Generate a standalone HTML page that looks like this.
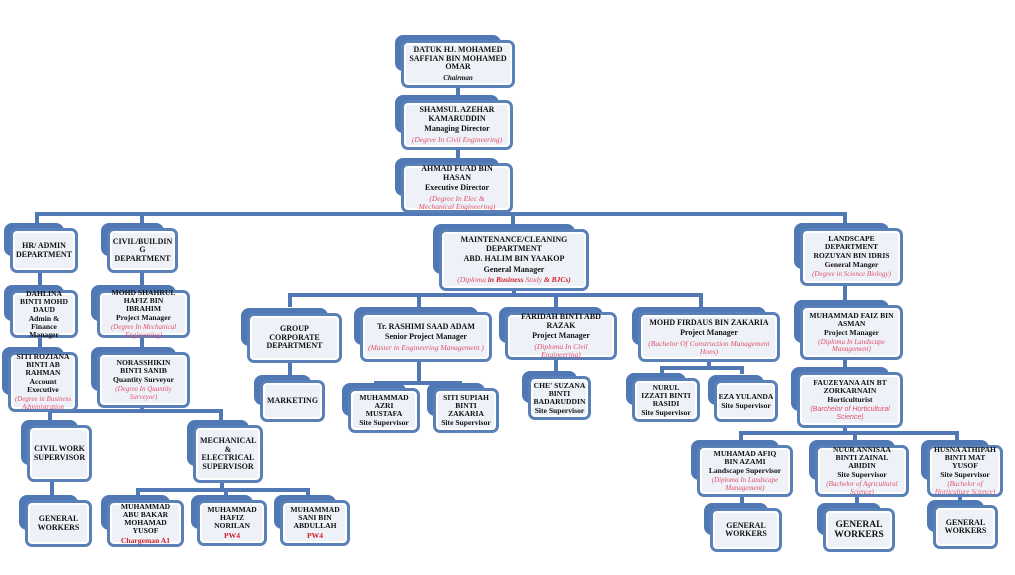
<!DOCTYPE html>
<html><head><meta charset="utf-8">
<style>
body{margin:0;width:1015px;height:575px;background:#fff;position:relative;overflow:hidden;font-family:"Liberation Serif",serif;}
.n{position:absolute;box-sizing:border-box;border:3px solid #5a80b8;border-radius:7px;background:#eef2f8;box-shadow:inset 0 0 0 2px #fff;display:flex;flex-direction:column;justify-content:center;align-items:center;text-align:center;font-weight:bold;font-size:8px;line-height:8.5px;color:#111;padding:0 4px;}
.n::before{content:"";position:absolute;left:-9px;top:-8px;width:calc(100% - 2px);height:calc(100% - 6px);background:#4f78b4;border-radius:8px;z-index:-1;}
.l{position:absolute;background:#4f78b4;z-index:-2;}
.r{font-size:8px;margin-top:2px;}
.d{color:#e0506a;font-style:italic;font-weight:normal;font-size:7.5px;line-height:8px;margin-top:2px;}
.rd{color:#d0202a;font-weight:bold;margin-top:2px;}
.s{font-size:7.6px;line-height:8px;padding:0 2px;}
.s .r{font-size:7.6px;margin-top:1px;}
.s .d{font-size:7px;line-height:7.5px;}
</style></head><body>
<div class="l" style="left:456px;top:85px;width:4px;height:130px"></div>
<div class="l" style="left:36px;top:212px;width:810px;height:4px"></div>
<div class="l" style="left:35px;top:212px;width:4px;height:14px"></div>
<div class="l" style="left:140px;top:212px;width:4px;height:14px"></div>
<div class="l" style="left:511px;top:212px;width:4px;height:14px"></div>
<div class="l" style="left:843px;top:212px;width:4px;height:14px"></div>
<div class="l" style="left:38px;top:270px;width:4px;height:90px"></div>
<div class="l" style="left:140px;top:270px;width:4px;height:90px"></div>
<div class="l" style="left:140px;top:405px;width:4px;height:8px"></div>
<div class="l" style="left:48px;top:409px;width:174px;height:4px"></div>
<div class="l" style="left:48px;top:409px;width:4px;height:16px"></div>
<div class="l" style="left:219px;top:409px;width:4px;height:16px"></div>
<div class="l" style="left:50px;top:478px;width:4px;height:22px"></div>
<div class="l" style="left:220px;top:480px;width:4px;height:10px"></div>
<div class="l" style="left:136px;top:488px;width:174px;height:4px"></div>
<div class="l" style="left:136px;top:488px;width:4px;height:10px"></div>
<div class="l" style="left:224px;top:488px;width:4px;height:10px"></div>
<div class="l" style="left:306px;top:488px;width:4px;height:10px"></div>
<div class="l" style="left:288px;top:293px;width:415px;height:4px"></div>
<div class="l" style="left:288px;top:293px;width:4px;height:14px"></div>
<div class="l" style="left:417px;top:293px;width:4px;height:14px"></div>
<div class="l" style="left:554px;top:293px;width:4px;height:14px"></div>
<div class="l" style="left:699px;top:293px;width:4px;height:14px"></div>
<div class="l" style="left:512px;top:288px;width:4px;height:8px"></div>
<div class="l" style="left:288px;top:360px;width:4px;height:18px"></div>
<div class="l" style="left:374px;top:381px;width:88px;height:4px"></div>
<div class="l" style="left:374px;top:381px;width:4px;height:8px"></div>
<div class="l" style="left:458px;top:381px;width:4px;height:8px"></div>
<div class="l" style="left:417px;top:360px;width:4px;height:23px"></div>
<div class="l" style="left:554px;top:358px;width:4px;height:16px"></div>
<div class="l" style="left:660px;top:366px;width:84px;height:4px"></div>
<div class="l" style="left:660px;top:366px;width:4px;height:8px"></div>
<div class="l" style="left:740px;top:366px;width:4px;height:8px"></div>
<div class="l" style="left:707px;top:360px;width:4px;height:8px"></div>
<div class="l" style="left:843px;top:285px;width:4px;height:150px"></div>
<div class="l" style="left:739px;top:431px;width:220px;height:4px"></div>
<div class="l" style="left:739px;top:431px;width:4px;height:12px"></div>
<div class="l" style="left:853px;top:431px;width:4px;height:12px"></div>
<div class="l" style="left:955px;top:431px;width:4px;height:12px"></div>
<div class="l" style="left:740px;top:495px;width:4px;height:12px"></div>
<div class="l" style="left:855px;top:495px;width:4px;height:12px"></div>
<div class="l" style="left:958px;top:495px;width:4px;height:10px"></div>

<div class="n" style="left:401px;top:40px;width:114px;height:48px">DATUK HJ. MOHAMED SAFFIAN BIN MOHAMED OMAR<div class="r" style="font-style:italic;font-size:7px">Chairman</div></div>
<div class="n" style="left:401px;top:100px;width:112px;height:50px">SHAMSUL AZEHAR KAMARUDDIN<div class="r">Managing Director</div><div class="d">(Degree In Civil Engineering)</div></div>
<div class="n" style="left:401px;top:163px;width:112px;height:50px;padding:0 12px">AHMAD FUAD BIN HASAN<div class="r">Executive Director</div><div class="d">(Degree In Elec &amp; Mechanical Engineering)</div></div>

<div class="n" style="left:10px;top:228px;width:68px;height:45px">HR/ ADMIN DEPARTMENT</div>
<div class="n" style="left:107px;top:228px;width:71px;height:45px">CIVIL/BUILDIN G DEPARTMENT</div>
<div class="n s" style="left:10px;top:290px;width:68px;height:48px;padding:0 6px">DAHLINA BINTI MOHD DAUD<div class="r">Admin &amp; Finance Manager</div></div>
<div class="n s" style="left:97px;top:290px;width:93px;height:48px;padding:0 6px">MOHD SHAHRUL HAFIZ BIN IBRAHIM<div class="r">Project Manager</div><div class="d">(Degree In Mechanical Engineering)</div></div>
<div class="n s" style="left:8px;top:352px;width:70px;height:60px;padding:0 2px">SITI ROZIANA BINTI AB RAHMAN<div class="r">Account Executive</div><div class="d">(Degree in Business Administration</div></div>
<div class="n s" style="left:97px;top:352px;width:93px;height:56px;padding:0 8px">NORASSHIKIN BINTI SANIB<div class="r">Quantity Surveyor</div><div class="d">(Degree In Quantity Surveyor)</div></div>
<div class="n" style="left:27px;top:425px;width:65px;height:57px">CIVIL WORK SUPERVISOR</div>
<div class="n" style="left:193px;top:425px;width:70px;height:58px;padding:0 8px">MECHANICAL &amp; ELECTRICAL SUPERVISOR</div>
<div class="n" style="left:25px;top:500px;width:67px;height:47px">GENERAL WORKERS</div>
<div class="n s" style="left:107px;top:500px;width:77px;height:47px;padding:0 6px">MUHAMMAD ABU BAKAR MOHAMAD YUSOF<div class="rd">Chargeman A1</div></div>
<div class="n s" style="left:197px;top:500px;width:70px;height:46px;padding:0 8px">MUHAMMAD HAFIZ NORILAN<div class="rd">PW4</div></div>
<div class="n s" style="left:280px;top:500px;width:70px;height:46px;padding:0 8px">MUHAMMAD SANI BIN ABDULLAH<div class="rd">PW4</div></div>

<div class="n" style="left:439px;top:229px;width:150px;height:62px;padding:0 14px">MAINTENANCE/CLEANING DEPARTMENT<div class="r">ABD. HALIM BIN YAAKOP</div><div class="r">General Manager</div><div class="d">(Diploma <b style="color:#d0202a">in Business</b> Study <b style="color:#d0202a">&amp; BJCs)</b></div></div>
<div class="n" style="left:247px;top:313px;width:95px;height:50px;padding:0 8px">GROUP CORPORATE DEPARTMENT</div>
<div class="n" style="left:360px;top:312px;width:132px;height:50px">Tr. RASHIMI SAAD ADAM<div class="r">Senior Project Manager</div><div class="d">(Master in Engineering Management )</div></div>
<div class="n" style="left:505px;top:312px;width:112px;height:48px;padding:0 6px">FARIDAH BINTI ABD RAZAK<div class="r">Project Manager</div><div class="d">(Diploma In Civil Engineering)</div></div>
<div class="n" style="left:638px;top:312px;width:142px;height:50px;padding:0 6px">MOHD FIRDAUS BIN ZAKARIA<div class="r">Project Manager</div><div class="d">(Bachelor Of Construction Management Hons)</div></div>
<div class="n" style="left:260px;top:380px;width:65px;height:42px">MARKETING</div>
<div class="n s" style="left:348px;top:388px;width:72px;height:45px;padding:0 8px">MUHAMMAD AZRI MUSTAFA<div class="r">Site Supervisor</div></div>
<div class="n s" style="left:433px;top:388px;width:66px;height:45px;padding:0 3px">SITI SUPIAH BINTI ZAKARIA<div class="r">Site Supervisor</div></div>
<div class="n s" style="left:528px;top:376px;width:63px;height:44px">CHE' SUZANA BINTI BADARUDDIN<div class="r">Site Supervisor</div></div>
<div class="n s" style="left:632px;top:378px;width:68px;height:44px;padding:0 6px">NURUL IZZATI BINTI RASIDI<div class="r">Site Supervisor</div></div>
<div class="n s" style="left:714px;top:380px;width:64px;height:42px;padding:0 1px">EZA YULANDA<div class="r">Site Supervisor</div></div>

<div class="n s" style="left:800px;top:228px;width:103px;height:58px;padding:0 4px">LANDSCAPE DEPARTMENT<div class="r">ROZUYAN BIN IDRIS</div><div class="r">General Manger</div><div class="d">(Degree in Science Biology)</div></div>
<div class="n s" style="left:800px;top:305px;width:103px;height:55px;padding:0 4px">MUHAMMAD FAIZ BIN ASMAN<div class="r">Project Manager</div><div class="d">(Diploma In Landscape Management)</div></div>
<div class="n s" style="left:797px;top:372px;width:106px;height:56px;padding:0 10px">FAUZEYANA AIN BT ZORKARNAIN<div class="r">Horticulturist</div><div class="d" style="font-family:'Liberation Sans',sans-serif;font-size:7px">(Barchelor of Horticultural Science)</div></div>
<div class="n s" style="left:697px;top:445px;width:96px;height:52px;padding:0 6px">MUHAMAD AFIQ BIN AZAMI<div class="r">Landscape Supervisor</div><div class="d">(Diploma In Landscape Management)</div></div>
<div class="n s" style="left:815px;top:445px;width:94px;height:52px;padding:0 6px">NUUR ANNISAA BINTI ZAINAL ABIDIN<div class="r">Site Supervisor</div><div class="d">(Bachelor of Agricultural Science)</div></div>
<div class="n s" style="left:927px;top:445px;width:76px;height:52px;padding:0 3px">HUSNA ATHIPAH BINTI MAT YUSOF<div class="r">Site Supervisor</div><div class="d">(Bachelor of Horticulture Science)</div></div>
<div class="n" style="left:710px;top:508px;width:72px;height:44px">GENERAL WORKERS</div>
<div class="n" style="left:823px;top:508px;width:72px;height:44px;font-size:9.5px;line-height:10px">GENERAL WORKERS</div>
<div class="n" style="left:933px;top:505px;width:65px;height:44px">GENERAL WORKERS</div>
</body></html>
